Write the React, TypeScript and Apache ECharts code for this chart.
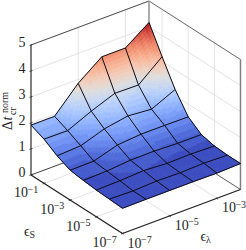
import React, { useEffect, useRef } from "react";
import * as echarts from "echarts";

// exponents of the two log axes
const lambdaNodes = [-7, -6, -5, -4, -3, -2];
const sNodes = [0, -1, -2, -3, -4, -5, -6, -7];
const lambdaTicks = [-7, -5, -3];
const sTicks = [-1, -3, -5, -7];
const zTicks = [0, 1, 2, 3, 4, 5];
// height of the surface: one row per sNodes entry, one column per lambdaNodes entry
const row0 = [1.92, 1.92, 2.85, 3.53, 3.53, 4.17];
const row1 = [1.7, 1.69, 2.1, 2.45, 2.43, 3.18];
const row2 = [1.38, 1.43, 1.74, 1.9, 1.82, 2.24];
const row3 = [1.15, 1.16, 1.44, 1.52, 1.52, 1.51];
const row4 = [1.08, 1.1, 1.18, 1.19, 1.15, 1.15];
const row5 = [1.03, 1.05, 1.1, 1.04, 1.06, 1.03];
const row6 = [1.0, 0.98, 1.02, 1.0, 1.03, 1.0];
const row7 = [0.97, 0.98, 0.98, 0.98, 0.97, 1.0];
const heights = [row0, row1, row2, row3, row4, row5, row6, row7];

const coolwarm = [
  [59, 76, 192], [68, 90, 204], [77, 104, 215], [87, 117, 225], [98, 130, 234], [108, 142, 241],
  [119, 154, 247], [130, 165, 251], [141, 176, 254], [152, 185, 255], [163, 194, 255], [174, 201, 253],
  [184, 208, 249], [194, 213, 244], [204, 217, 238], [213, 219, 230], [221, 221, 221], [229, 216, 209],
  [236, 211, 197], [241, 204, 185], [245, 196, 173], [247, 187, 160], [247, 177, 148], [247, 166, 135],
  [244, 154, 123], [241, 141, 111], [236, 127, 99], [229, 112, 88], [222, 96, 77], [213, 80, 66],
  [203, 62, 56], [192, 40, 47], [180, 4, 38],
];

const lambdaMin = -7, lambdaMax = -2, sMin = -7, sMax = 0, zMax = 5;
const SUB = 10;
const BANDS = 30;
const zLo = 1.04;
const zHi = Math.max(...heights.flat());

// oblique projection of the 3D box onto the page
function project(lam: number, s: number, z: number): [number, number] {
  const i = lam - lambdaMin;
  const j = -s;
  return [31 + 23.6 * i + 13.07 * j, 175 - 8.8 * i + 8.36 * j - 26 * z];
}

function colorOf(z: number): string {
  let t = Math.max(0, (z - zLo) / (zHi - zLo));
  t = Math.round(t * BANDS) / BANDS;
  const p = Math.max(0, Math.min(1, t)) * (coolwarm.length - 1);
  const a = Math.floor(p);
  const b = Math.min(coolwarm.length - 1, a + 1);
  const f = p - a;
  const c = coolwarm[a].map((v, k) => Math.round(v + (coolwarm[b][k] - v) * f));
  return `rgb(${c[0]},${c[1]},${c[2]})`;
}

function heightAt(col: number, row: number): number {
  const c = Math.min(Math.floor(col + 1e-9), lambdaNodes.length - 2);
  const r = Math.min(Math.floor(row + 1e-9), sNodes.length - 2);
  const u = col - c;
  const v = row - r;
  return (
    heights[r][c] * (1 - u) * (1 - v) +
    heights[r][c + 1] * u * (1 - v) +
    heights[r + 1][c] * (1 - u) * v +
    heights[r + 1][c + 1] * u * v
  );
}

function nodePoint(col: number, row: number): [number, number] {
  return project(lambdaMin + col, -row, heightAt(col, row));
}

type Seg = { pts: [number, number][]; color: string; width: number };

function boxSegments(): Seg[] {
  const grid = "#e3e3e3";
  const edge = "#6e6e6e";
  const out: Seg[] = [];
  const line = (pts: [number, number][], color: string, width: number) => out.push({ pts, color, width });
  for (const l of lambdaTicks) {
    line([project(l, sMax, 0), project(l, sMax, zMax)], grid, 1);
    line([project(l, sMin, 0), project(l, sMax, 0)], grid, 1);
  }
  for (const s of sTicks) {
    line([project(lambdaMax, s, 0), project(lambdaMax, s, zMax)], grid, 1);
    line([project(lambdaMin, s, 0), project(lambdaMax, s, 0)], grid, 1);
  }
  for (const z of zTicks) {
    line([project(lambdaMin, sMax, z), project(lambdaMax, sMax, z)], grid, 1);
    line([project(lambdaMax, sMax, z), project(lambdaMax, sMin, z)], grid, 1);
  }
  line([project(lambdaMin, sMax, zMax), project(lambdaMax, sMax, zMax)], "#3c3c3c", 0.9);
  line([project(lambdaMax, sMax, zMax), project(lambdaMax, sMin, zMax)], edge, 1);
  line([project(lambdaMax, sMax, 0), project(lambdaMax, sMax, zMax)], "#909090", 1.5);
  line([project(lambdaMax, sMin, 0), project(lambdaMax, sMin, zMax)], "#808080", 1.5);
  line([project(lambdaMin, sMax, 0), project(lambdaMax, sMax, 0)], "#333333", 0.9);
  line([project(lambdaMax, sMax, 0), project(lambdaMax, sMin, 0)], "#555555", 0.9);
  return out;
}

function axisSegments(): Seg[] {
  const out: Seg[] = [];
  const dark = "#222222";
  out.push({ pts: [project(lambdaMin, sMax, 0), project(lambdaMin, sMax, zMax)], color: dark, width: 1.1 });
  out.push({ pts: [project(lambdaMin, sMax, 0), project(lambdaMin, sMin, 0)], color: dark, width: 1.2 });
  out.push({ pts: [project(lambdaMin, sMin, 0), project(lambdaMax, sMin, 0)], color: dark, width: 1.2 });
  for (const z of zTicks) {
    const [x, y] = project(lambdaMin, sMax, z);
    out.push({ pts: [[x - 1.5, y + 0.4], [x + 1.5, y - 0.6]], color: dark, width: 0.8 });
  }
  for (const s of sTicks) {
    const [x, y] = project(lambdaMin, s, 0);
    out.push({ pts: [[x - 1.5, y + 0.6], [x + 1.5, y - 0.6]], color: dark, width: 0.8 });
  }
  for (const l of lambdaTicks) {
    const [x, y] = project(l, sMin, 0);
    out.push({ pts: [[x - 1, y - 0.8], [x + 1, y + 0.8]], color: dark, width: 0.8 });
  }
  return out;
}

function wireSegments(): Seg[] {
  const out: Seg[] = [];
  sNodes.forEach((_, r) => {
    out.push({ pts: lambdaNodes.map((_, c) => nodePoint(c, r)), color: "#0c0c14", width: 1 });
  });
  lambdaNodes.forEach((_, c) => {
    out.push({ pts: sNodes.map((_, r) => nodePoint(c, r)), color: "#0c0c14", width: 1 });
  });
  return out;
}

function facets(): number[][] {
  const out: number[][] = [];
  const nc = (lambdaNodes.length - 1) * SUB;
  const nr = (sNodes.length - 1) * SUB;
  for (let c = nc - 1; c >= 0; c--) for (let r = 0; r < nr; r++) out.push([c / SUB, r / SUB]);
  return out;
}

function segRenderer(segs: Seg[]) {
  return (_: any, api: any) => ({
    type: "group",
    children: segs.map((s) => ({
      type: "polyline",
      silent: true,
      shape: { points: s.pts.map((p) => api.coord(p)) },
      style: { stroke: s.color, lineWidth: s.width, fill: "none" },
    })),
  });
}

const SERIF = "'Liberation Serif'";
const INK = "#262626";

function txt(x: number, y: number, text: string, size: number, align = "left", prefix = "") {
  return {
    type: "text",
    x,
    y,
    style: { text, font: `${prefix}${size}px ${SERIF}`, fill: INK, align, verticalAlign: "middle" },
  };
}

function sup(left: number, cy: number, exp: number) {
  return [txt(left, cy, "10", 14), txt(left + 13.5, cy - 3.5, `\u2212${-exp}`, 10)];
}

function textElements() {
  const els: any[] = [];
  for (const z of zTicks) {
    const [, y] = project(lambdaMin, sMax, z);
    els.push(txt(25.5, y - 2.5, String(z), 14, "right"));
  }
  for (const s of sTicks) {
    const [x, y] = project(lambdaMin, s, 0);
    els.push(...sup(x - 30, y + 9.2, s));
  }
  for (const l of lambdaTicks) {
    const [x, y] = project(l, sMin, 0);
    els.push(...sup(x + 5, y + 9.5, l));
  }
  els.push(txt(24, 231.5, "\u03F5", 14));
  els.push(txt(29.5, 234.5, "S", 10));
  els.push(txt(200.5, 236.5, "\u03F5", 14));
  els.push(txt(206, 239.5, "\u03BB", 10));
  els.push({
    type: "group",
    x: 7.5,
    y: 130,
    rotation: Math.PI / 2,
    children: [
      txt(0, 0, "\u0394", 14),
      txt(9.5, 0, "t", 14, "left", "italic "),
      txt(15, 4.5, "cr", 10),
      txt(17, -3.5, "norm", 10),
    ],
  });
  return els;
}

export default function App() {
  const ref = useRef<HTMLDivElement>(null);
  useEffect(() => {
    document.body.style.margin = "0";
    const chart = echarts.init(ref.current!, null, { renderer: "svg" });
    chart.setOption({
      animation: false,
      backgroundColor: "#ffffff",
      grid: { left: 0, right: 0, top: 0, bottom: 0 },
      xAxis: { type: "value", min: 0, max: 246, show: false },
      yAxis: { type: "value", min: 0, max: 250, inverse: true, show: false },
      graphic: textElements(),
      series: [
        { type: "custom", coordinateSystem: "cartesian2d", silent: true, clip: false, data: [[0, 0]], z: 1, renderItem: segRenderer(boxSegments()) },
        {
          type: "custom",
          coordinateSystem: "cartesian2d",
          silent: true,
          clip: false,
          z: 2,
          data: facets(),
          renderItem: (_: any, api: any) => {
            const c = api.value(0);
            const r = api.value(1);
            const d = 1 / SUB;
            const corners = [nodePoint(c, r), nodePoint(c + d, r), nodePoint(c + d, r + d), nodePoint(c, r + d)];
            const col = colorOf(heightAt(c + d / 2, r + d / 2));
            return {
              type: "polygon",
              silent: true,
              shape: { points: corners.map((p) => api.coord(p)) },
              style: { fill: col, stroke: col, lineWidth: 0.7 },
            };
          },
        },
        { type: "custom", coordinateSystem: "cartesian2d", silent: true, clip: false, data: [[0, 0]], z: 3, renderItem: segRenderer(wireSegments()) },
        { type: "custom", coordinateSystem: "cartesian2d", silent: true, clip: false, data: [[0, 0]], z: 4, renderItem: segRenderer(axisSegments()) },
      ],
    });
    return () => chart.dispose();
  }, []);
  return <div ref={ref} style={{ width: 246, height: 250 }} />;
}
